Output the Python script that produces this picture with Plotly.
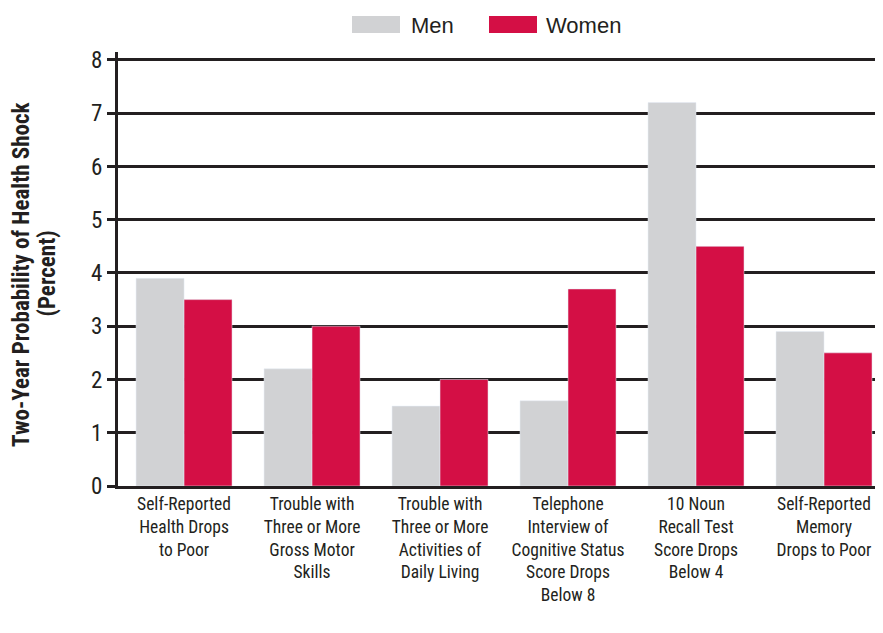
import plotly.graph_objects as go

categories = [
    "Self-Reported<br>Health Drops<br>to Poor",
    "Trouble with<br>Three or More<br>Gross Motor<br>Skills",
    "Trouble with<br>Three or More<br>Activities of<br>Daily Living",
    "Telephone<br>Interview of<br>Cognitive Status<br>Score Drops<br>Below 8",
    "10 Noun<br>Recall Test<br>Score Drops<br>Below 4",
    "Self-Reported<br>Memory<br>Drops to Poor",
]
men = [3.9, 2.2, 1.5, 1.6, 7.2, 2.9]
women = [3.5, 3.0, 2.0, 3.7, 4.5, 2.5]
y_ticks = [0, 1, 2, 3, 4, 5, 6, 7, 8]
y_title = ["Two-Year Probability of Health Shock", "(Percent)"]

MEN_COLOR = "#d1d2d4"
WOMEN_COLOR = "#d40f45"
INK = "#231f20"
NARROW = "Liberation Sans Narrow, Roboto Condensed, Arial Narrow, sans-serif"
REGULAR = "Liberation Sans, Arial, sans-serif"

fig = go.Figure()
fig.add_trace(go.Bar(x=categories, y=men, name="Men", marker_color=MEN_COLOR))
fig.add_trace(go.Bar(x=categories, y=women, name="Women", marker_color=WOMEN_COLOR))

# plot area is 764px wide (118..882 in the window); paper coords below
PW = 764.0
def px(x):
    return (x - 118) / PW

# wide legend swatches like the original, drawn above the plot area
legend_items = [("Men", MEN_COLOR, px(352), px(400), px(409)),
                ("Women", WOMEN_COLOR, px(489), px(537), px(544))]
for label, color, x0, x1, tx in legend_items:
    fig.add_shape(type="rect", xref="paper", yref="paper",
                  x0=x0, x1=x1, y0=1.0438, y1=1.0829,
                  fillcolor=color, line_width=0)
    fig.add_annotation(text=label, xref="paper", yref="paper",
                       x=tx, y=1.0622, xanchor="left", yanchor="middle",
                       showarrow=False,
                       font=dict(size=22, family=REGULAR, color=INK))

# y-axis title as two rotated lines (tighter line spacing than axis title)
for line, xpos in zip(y_title, [px(22), px(47.5)]):
    fig.add_annotation(text=f"<b>{line}</b>", xref="paper", yref="paper",
                       x=xpos, y=0.4885, xanchor="center", yanchor="middle",
                       textangle=-90, showarrow=False,
                       font=dict(size=23, family=NARROW, color=INK))

# page body has an 8px margin, so the figure is 8px smaller than the window
fig.update_layout(
    width=875,
    height=625,
    barmode="group",
    bargap=0.25,
    bargroupgap=0,
    showlegend=False,
    plot_bgcolor="white",
    paper_bgcolor="white",
    font=dict(family=NARROW, size=17.5, color=INK),
    margin=dict(l=110, r=1, t=44, b=147, autoexpand=False),
    xaxis=dict(
        range=[-0.516, 5.453],
        showline=True,
        linecolor=INK,
        linewidth=3,
        ticks="",
        tickfont=dict(size=17.5),
        automargin=False,
    ),
    yaxis=dict(
        range=[0, 8.15],
        tickvals=y_ticks,
        showgrid=True,
        gridcolor=INK,
        gridwidth=2.5,
        zeroline=False,
        showline=True,
        linecolor=INK,
        linewidth=3,
        ticks="outside",
        ticklen=8,
        tickwidth=2.5,
        tickcolor=INK,
        tickfont=dict(size=23),
        automargin=False,
    ),
)

fig.write_html("out.html")
